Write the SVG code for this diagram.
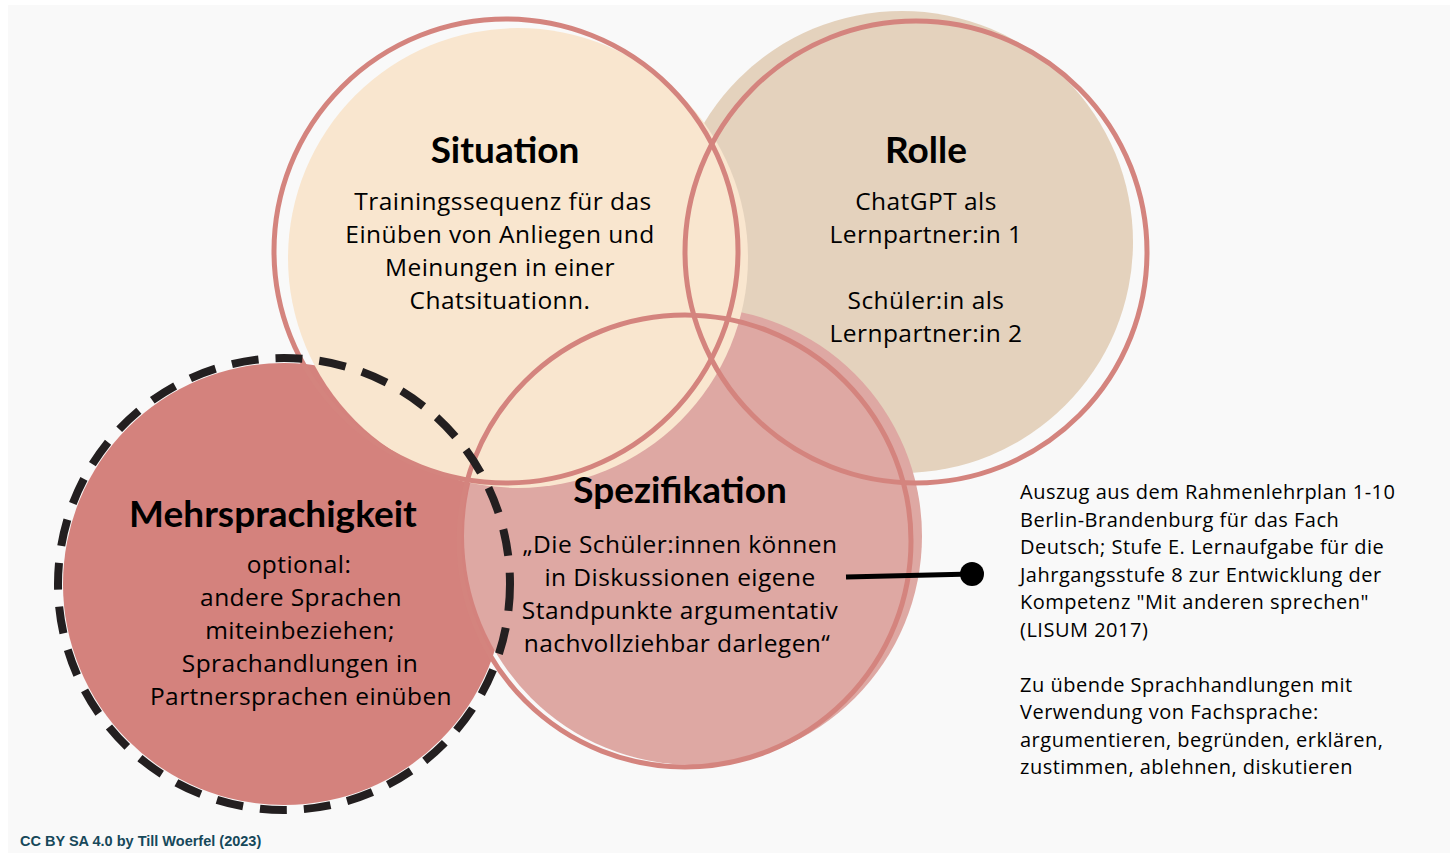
<svg xmlns="http://www.w3.org/2000/svg" width="1450" height="853" viewBox="0 0 1450 853">
<style>
.ring{fill:none;stroke:#d4847e;stroke-width:5}
.title{font-family:Lato,"Open Sans",sans-serif;font-weight:700;font-size:37px;fill:#000;text-anchor:middle}
.body{font-family:"Open Sans","Liberation Sans",sans-serif;font-size:24.5px;letter-spacing:0.45px;fill:#000;text-anchor:middle}
.note{font-family:"Open Sans","Liberation Sans",sans-serif;font-size:20px;letter-spacing:0.5px;fill:#000}
.credit{font-family:"Liberation Sans",Arial,sans-serif;font-weight:700;font-size:14.5px;fill:#16485a}
</style>
<rect x="0" y="0" width="1450" height="853" fill="#ffffff"/>
<rect x="8" y="5" width="1442" height="848" fill="#f9f9f9"/>

<g id="fills">
<circle id="fill-mehrsprachigkeit" cx="284" cy="584" r="221" fill="#d4827d"/>
<circle id="fill-rolle" cx="902" cy="242" r="231" fill="#e4d2bd"/>
<circle id="fill-spezifikation" cx="693" cy="536" r="229" fill="#dea8a3"/>
<circle id="fill-situation" cx="518" cy="258" r="230" fill="#f9e6cf"/>
</g>

<g id="node-situation">
<circle class="ring" cx="506" cy="251" r="232"/>
<text class="title" x="505" y="163">Situation</text>
<text class="body" x="503" y="210">Trainingssequenz für das</text>
<text class="body" x="500" y="243">Einüben von Anliegen und</text>
<text class="body" x="500" y="276">Meinungen in einer</text>
<text class="body" x="500" y="309">Chatsituationn.</text>
</g>

<g id="node-rolle">
<circle class="ring" cx="916" cy="252" r="231"/>
<text class="title" x="926" y="163">Rolle</text>
<text class="body" x="926" y="210">ChatGPT als</text>
<text class="body" x="926" y="243">Lernpartner:in 1</text>
<text class="body" x="926" y="309">Schüler:in als</text>
<text class="body" x="926" y="342">Lernpartner:in 2</text>
</g>

<g id="node-spezifikation">
<circle class="ring" cx="685" cy="541" r="226"/>
<text class="title" x="680" y="503">Spezifikation</text>
<text class="body" x="680" y="553">„Die Schüler:innen können</text>
<text class="body" x="680" y="586">in Diskussionen eigene</text>
<text class="body" x="680" y="619">Standpunkte argumentativ</text>
<text class="body" x="677" y="652">nachvollziehbar darlegen“</text>
</g>

<g id="node-mehrsprachigkeit">
<circle cx="284" cy="584" r="226" fill="none" stroke="#231f20" stroke-width="8" stroke-dasharray="27 17"/>
<text class="title" x="273" y="527">Mehrsprachigkeit</text>
<text class="body" x="299" y="573">optional:</text>
<text class="body" x="301" y="606">andere Sprachen</text>
<text class="body" x="300" y="639">miteinbeziehen;</text>
<text class="body" x="300" y="672">Sprachandlungen in</text>
<text class="body" x="301" y="705">Partnersprachen einüben</text>
</g>

<g id="connectors">
<line x1="846" y1="577" x2="972" y2="574" stroke="#000" stroke-width="5"/>
<circle cx="972" cy="574" r="12" fill="#000"/>
</g>

<g id="node-note">
<text class="note" x="1020" y="499">Auszug aus dem Rahmenlehrplan 1-10</text>
<text class="note" x="1020" y="526.5">Berlin-Brandenburg für das Fach</text>
<text class="note" x="1020" y="554">Deutsch; Stufe E. Lernaufgabe für die</text>
<text class="note" x="1020" y="581.5">Jahrgangsstufe 8 zur Entwicklung der</text>
<text class="note" x="1020" y="609">Kompetenz "Mit anderen sprechen"</text>
<text class="note" x="1020" y="636.5">(LISUM 2017)</text>
<text class="note" x="1020" y="691.5">Zu übende Sprachhandlungen mit</text>
<text class="note" x="1020" y="719">Verwendung von Fachsprache:</text>
<text class="note" x="1020" y="746.5">argumentieren, begründen, erklären,</text>
<text class="note" x="1020" y="774">zustimmen, ablehnen, diskutieren</text>
</g>

<g id="credit">
<text class="credit" x="20" y="846">CC BY SA 4.0 by Till Woerfel (2023)</text>
</g>
</svg>
